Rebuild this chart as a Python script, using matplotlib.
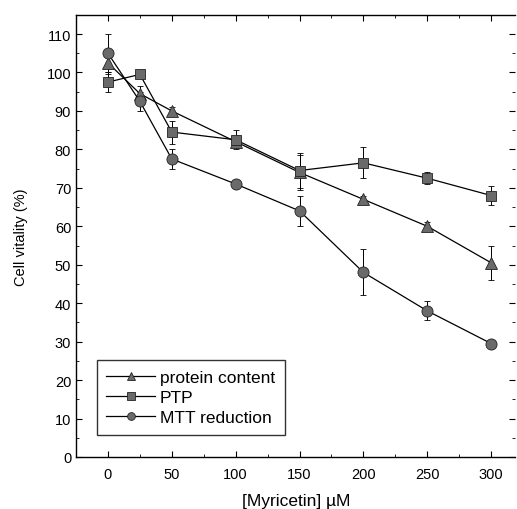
import matplotlib
matplotlib.use("Agg")
import matplotlib.pyplot as plt
from matplotlib.ticker import MultipleLocator

plt.rcParams['font.family'] = ['Liberation Sans', 'DejaVu Sans']

conc = [0, 25, 50, 100, 150, 200, 250, 300]
protein = [102.5, 94.5, 90, 82, 74, 67, 60, 50.5]
protein_err = [3, 2, 1, 1.5, 4.5, 1, 1, 4.5]
ptp = [97.5, 99.5, 84.5, 82.5, 74.5, 76.5, 72.5, 68]
ptp_err = [2.5, 1, 3, 2.5, 4.5, 4, 1.5, 2.5]
mtt = [105, 92.5, 77.5, 71, 64, 48, 38, 29.5]
mtt_err = [5, 2.5, 2.5, 0.5, 4, 6, 2.5, 0.5]
labels = ['protein content', 'PTP', 'MTT reduction']

fig = plt.figure(figsize=(5.17, 5.10), dpi=100)
ax = fig.add_axes([0.147, 0.102, 0.85, 0.867])

common = dict(color='black', lw=0.9, capsize=2.5, elinewidth=0.7, capthick=0.7,
              markerfacecolor='#6a6a6a', markeredgecolor='#222222', markeredgewidth=0.6)
c1 = ax.errorbar(conc, protein, yerr=protein_err, marker='^', ms=9, **common)
c2 = ax.errorbar(conc, ptp, yerr=ptp_err, marker='s', ms=7.5, **common)
c3 = ax.errorbar(conc, mtt, yerr=mtt_err, marker='o', ms=8, **common)

ax.set_xlim(-25, 319)
ax.set_ylim(0, 115)
ax.xaxis.set_major_locator(MultipleLocator(50))
ax.xaxis.set_minor_locator(MultipleLocator(25))
ax.yaxis.set_major_locator(MultipleLocator(10))
ax.yaxis.set_minor_locator(MultipleLocator(5))
ax.tick_params(which='both', direction='in', top=True, right=True, labelsize=10.5)
ax.tick_params(axis='x', pad=7)
ax.tick_params(which='major', length=4, width=0.8)
ax.tick_params(which='minor', length=2, width=0.6)
ax.spines['right'].set_visible(False)
for s in ['left', 'bottom', 'top']:
    ax.spines[s].set_linewidth(1.0)

ax.set_xlabel('[Myricetin] µM', fontsize=12.5, labelpad=9)
ax.set_ylabel('Cell vitality (%)', fontsize=10.5, labelpad=13)

leg = ax.legend([c1[0], c2[0], c3[0]], labels, loc='lower left',
                bbox_to_anchor=(0.047, 0.05), fontsize=12.5, markerscale=0.7,
                frameon=True, fancybox=False, edgecolor='black', handlelength=2.8,
                borderpad=0.55, labelspacing=0.3, handletextpad=0.3, borderaxespad=0)
leg.get_frame().set_linewidth(1.0)

fig.savefig('out.png', dpi=100)
